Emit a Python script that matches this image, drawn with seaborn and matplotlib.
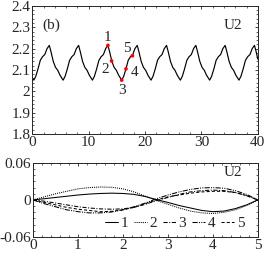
import numpy as np
import pandas as pd
import matplotlib
matplotlib.use("Agg")
import matplotlib.pyplot as plt
import seaborn as sns
from matplotlib.ticker import MultipleLocator, FuncFormatter

sns.set_theme(style="ticks")
plt.rcParams['font.family'] = ['Liberation Serif', 'DejaVu Serif']
plt.rcParams['font.size'] = 11
plt.rcParams['xtick.direction'] = 'in'
plt.rcParams['ytick.direction'] = 'in'
plt.rcParams['xtick.top'] = True
plt.rcParams['ytick.right'] = True

# top panel: U2 time series
t_u2 = [0.0, 0.25, 0.6, 1.0, 1.4, 1.8, 2.2, 2.6,
        3.0, 3.3, 3.7, 4.1, 4.5, 4.9, 5.45, 5.8, 6.2, 6.6, 7.0, 7.4, 7.8,
        8.2, 8.5, 8.9, 9.3, 9.7, 10.1, 10.65, 11.0, 11.4, 11.8, 12.2, 12.6, 13.0,
        13.4, 13.7, 14.1, 14.5, 14.9, 15.3, 15.85, 16.2, 16.6, 17.0, 17.4, 17.8, 18.2,
        18.6, 18.9, 19.3, 19.7, 20.1, 20.5, 21.05, 21.4, 21.8, 22.2, 22.6, 23.0, 23.4,
        23.8, 24.1, 24.5, 24.9, 25.3, 25.7, 26.25, 26.6, 27.0, 27.4, 27.8, 28.2, 28.6,
        29.0, 29.3, 29.7, 30.1, 30.5, 30.9, 31.45, 31.8, 32.2, 32.6, 33.0, 33.4, 33.8,
        34.2, 34.5, 34.9, 35.3, 35.7, 36.1, 36.65, 37.0, 37.4, 37.8, 38.2, 38.6, 39.0,
        39.4, 39.7, 40.0]
u2 = [2.062, 2.052, 2.070, 2.105, 2.145, 2.162, 2.172, 2.200,
      2.215, 2.185, 2.140, 2.112, 2.098, 2.075, 2.052, 2.070, 2.105, 2.145, 2.162, 2.172, 2.200,
      2.215, 2.185, 2.140, 2.112, 2.098, 2.075, 2.052, 2.070, 2.105, 2.145, 2.162, 2.172, 2.200,
      2.215, 2.185, 2.140, 2.112, 2.098, 2.075, 2.052, 2.070, 2.105, 2.145, 2.162, 2.172, 2.200,
      2.215, 2.185, 2.140, 2.112, 2.098, 2.075, 2.052, 2.070, 2.105, 2.145, 2.162, 2.172, 2.200,
      2.215, 2.185, 2.140, 2.112, 2.098, 2.075, 2.052, 2.070, 2.105, 2.145, 2.162, 2.172, 2.200,
      2.215, 2.185, 2.140, 2.112, 2.098, 2.075, 2.052, 2.070, 2.105, 2.145, 2.162, 2.172, 2.200,
      2.215, 2.185, 2.140, 2.112, 2.098, 2.075, 2.052, 2.070, 2.105, 2.145, 2.162, 2.172, 2.200,
      2.215, 2.185, 2.150]

# marked states 1-5
mark_t = [13.4, 14.05, 15.85, 16.6, 17.75]
mark_u = [2.215, 2.142, 2.052, 2.105, 2.166]
mark_labels = ['1', '2', '3', '4', '5']
label_t = [13.25, 12.85, 15.85, 18.15, 16.7]
label_u = [2.25, 2.10, 2.005, 2.09, 2.20]

# bottom panel: profiles for states 1-5
s = [0, 0.25, 0.5, 0.75, 1, 1.25, 1.5, 1.75, 2, 2.25, 2.5,
     2.75, 3, 3.25, 3.5, 3.75, 4, 4.25, 4.5, 4.75, 5]
p1 = [0, .002, .004, .006, .008, .0095, .0105, .011, .0105, .009, .0055,
      .0005, -.004, -.009, -.013, -.017, -.019, -.018, -.014, -.008, 0]
p2 = [0, .005, .010, .014, .018, .020, .021, .0205, .018, .013, .006,
      -.001, -.007, -.013, -.018, -.021, -.022, -.020, -.016, -.009, 0]
p3 = [0, -.002, -.005, -.008, -.011, -.013, -.0145, -.015, -.0145, -.012, -.007,
      -.001, .004, .009, .013, .015, .016, .015, .012, .007, 0]
p4 = [0, -.006, -.011, -.016, -.019, -.021, -.021, -.0195, -.016, -.011, -.005,
      .002, .008, .013, .017, .0195, .020, .019, .015, .009, 0]
p5 = [0, -.004, -.008, -.012, -.015, -.017, -.019, -.0185, -.016, -.012, -.006,
      .000, .005, .008, .011, .013, .014, .014, .012, .007, 0]
profiles = [p1, p2, p3, p4, p5]
styles = ['-', (0, (1, 1)), (0, (4, 1.5, 1, 1.5)), (0, (5, 1.2, 1, 1.2, 1, 1.2)), (0, (3, 2))]

fig = plt.figure(figsize=(2.7, 2.57), dpi=100)
ax1 = fig.add_axes([0.120, 0.479, 0.835, 0.498])
ax2 = fig.add_axes([0.122, 0.078, 0.833, 0.288])

sns.lineplot(x=t_u2, y=u2, ax=ax1, color='black', linewidth=0.85)
sns.scatterplot(x=mark_t, y=mark_u, ax=ax1, color='red', s=7, edgecolor='none', zorder=3)
for lt, lu, lab in zip(label_t, label_u, mark_labels):
    ax1.text(lt, lu, lab, ha='center', va='center', fontsize=11)
ax1.set_xlim(0, 40)
ax1.set_ylim(1.8, 2.4)
ax1.xaxis.set_major_locator(MultipleLocator(10))
ax1.xaxis.set_minor_locator(MultipleLocator(2))
ax1.yaxis.set_major_locator(MultipleLocator(0.1))
ax1.yaxis.set_minor_locator(MultipleLocator(0.02))
ax1.yaxis.set_major_formatter(FuncFormatter(lambda v, p: '%g' % round(v, 2)))
ax1.text(0.085, 0.85, '(b)', transform=ax1.transAxes, ha='center', va='center', fontsize=11)
ax1.text(0.89, 0.85, 'U2', transform=ax1.transAxes, ha='center', va='center', fontsize=11)

for i, (p, ls) in enumerate(zip(profiles, styles)):
    sns.lineplot(x=s, y=p, ax=ax2, color='black', linewidth=0.75, linestyle=ls,
                 label=str(i + 1))
ax2.set_xlim(0, 5)
ax2.set_ylim(-0.06, 0.06)
ax2.xaxis.set_major_locator(MultipleLocator(1))
ax2.xaxis.set_minor_locator(MultipleLocator(0.2))
ax2.yaxis.set_major_locator(MultipleLocator(0.06))
ax2.yaxis.set_minor_locator(MultipleLocator(0.01))
ax2.yaxis.set_major_formatter(FuncFormatter(lambda v, p: '%g' % round(v, 3)))
ax2.text(0.89, 0.865, 'U2', transform=ax2.transAxes, ha='center', va='center', fontsize=11)
ax2.legend(loc='lower right', ncol=5, frameon=False, fontsize=11, handlelength=0.9,
           handletextpad=0.15, columnspacing=0.35, borderaxespad=0.05,
           bbox_to_anchor=(0.97, 0.0))

for ax in (ax1, ax2):
    ax.set_xlabel('')
    ax.set_ylabel('')
    ax.tick_params(which='major', length=2.5, width=0.6, pad=1.5, labelsize=11)
    ax.tick_params(which='minor', length=1.2, width=0.5)
    for sp in ax.spines.values():
        sp.set_linewidth(0.7)

fig.savefig('out.png', dpi=100)
